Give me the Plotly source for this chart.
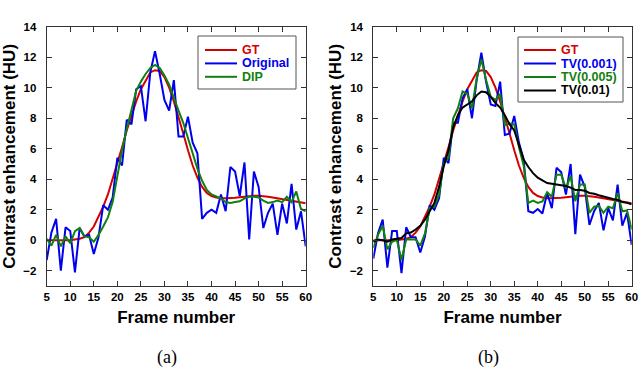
import plotly.graph_objects as go

RED = "#d40000"
BLUE = "#0000ee"
GREEN = "#108010"
BLACK = "#000000"

frames = list(range(5, 61))

gt = [0.0, 0.0, 0.0, 0.0, 0.0, 0.0, 0.05, 0.1, 0.2, 0.5, 0.9, 1.5, 2.2, 3.0,
      4.0, 5.0, 6.1, 7.2, 8.2, 9.1, 9.9, 10.5, 11.0, 11.15, 11.1, 10.7, 10.0,
      9.1, 8.1, 7.0, 5.9, 4.9, 4.1, 3.5, 3.1, 2.9, 2.8, 2.75, 2.75, 2.75, 2.78,
      2.82, 2.86, 2.9, 2.92, 2.92, 2.9, 2.85, 2.8, 2.75, 2.7, 2.6, 2.55, 2.5,
      2.45, 2.42]

original = [-1.3, 0.5, 1.4, -2.0, 0.85, 0.6, -2.1, 0.8, 0.25, 0.35, -0.9, 0.2,
            2.3, 2.0, 2.8, 5.4, 4.9, 7.9, 7.6, 9.9, 10.1, 7.8, 11.0, 12.4, 10.9,
            9.2, 8.5, 10.5, 6.8, 6.8, 8.1, 6.4, 5.7, 1.4, 1.8, 2.0, 1.8, 3.0,
            1.9, 4.8, 4.5, 2.9, 5.1, 0.05, 4.5, 3.5, 0.8, 1.8, 2.4, 0.35, 2.4,
            1.1, 3.7, 0.7, 1.9, -0.4]

dip = [0.1, -0.35, 0.35, -0.4, 0.25, -0.2, 0.6, 0.8, 0.25, 0.2, -0.1, 0.35,
       0.9, 1.5, 2.5, 4.3, 5.9, 7.3, 8.6, 9.8, 10.4, 10.9, 11.3, 11.5, 11.3,
       10.8, 10.2, 9.3, 8.5, 7.7, 6.7, 5.7, 4.7, 3.9, 3.3, 3.0, 2.9, 2.75,
       2.5, 2.45, 2.5, 2.55, 2.75, 2.85, 2.85, 2.8, 2.6, 2.45, 2.5, 2.6, 2.5,
       2.85, 2.5, 3.2, 2.05, 1.9]

tv_001 = [-1.2, 0.45, 1.35, -1.8, 0.6, 0.6, -2.15, 0.85, 0.2, 0.2, -0.8, 0.25,
          2.3, 2.0, 2.75, 5.4, 5.05, 7.7, 7.7, 9.3, 9.9, 8.0, 10.5, 12.3, 10.4,
          8.9, 8.8, 10.4, 6.9, 7.0, 8.15, 6.4, 5.3, 1.9, 1.8, 2.05, 1.75, 3.1,
          2.1, 4.75, 4.45, 3.0, 5.0, 0.4, 4.3, 3.5, 1.0, 1.9, 2.45, 0.65, 2.1,
          1.3, 3.65, 0.95, 1.8, -0.3]

tv_005 = [-0.5, 0.35, 0.95, -0.6, -0.1, 0.05, -1.3, 0.05, 0.05, 0.05, -0.35,
          0.45, 2.1, 2.2, 3.0, 5.05, 5.4, 8.0, 8.65, 9.75, 9.6, 8.65, 10.6,
          11.85, 10.5, 9.4, 9.2, 9.6, 7.55, 7.65, 7.6, 6.1, 4.9, 2.45, 2.6,
          2.45, 2.55, 3.15, 2.85, 4.3, 4.3, 3.4, 4.2, 2.55, 3.65, 3.65, 1.8,
          2.2, 2.25, 1.8, 2.2, 2.1, 3.1, 1.9, 1.95, 0.7]

tv_01 = [-0.1, 0.05, 0.0, -0.1, 0.05, 0.1, 0.15, 0.45, 0.5, 0.7, 0.95, 1.35,
         1.9, 2.45, 3.5, 4.85, 5.9, 7.4, 8.2, 8.7, 8.9, 9.1, 9.5, 9.75, 9.7,
         9.4, 9.0, 8.7, 8.2, 7.6, 7.2, 6.2, 5.3, 4.8, 4.4, 4.1, 3.9, 3.75, 3.7,
         3.65, 3.6, 3.55, 3.45, 3.3, 3.3, 3.25, 3.1, 3.05, 2.95, 2.85, 2.75,
         2.7, 2.65, 2.5, 2.45, 2.35]

x_ticks = list(range(5, 61, 5))
y_ticks = list(range(-2, 15, 2))

FONT = "Liberation Sans, Arial, sans-serif"
SERIF = "Liberation Serif, Times New Roman, serif"
W, H = 640, 371

left = [("GT", gt, RED), ("Original", original, BLUE), ("DIP", dip, GREEN)]
right = [("GT", gt, RED), ("TV(0.001)", tv_001, BLUE),
         ("TV(0.005)", tv_005, GREEN), ("TV(0.01)", tv_01, BLACK)]

fig = go.Figure()
for name, ys, col in left:
    fig.add_trace(go.Scatter(x=frames, y=ys, mode="lines", name=name,
                             line=dict(color=col, width=2), xaxis="x", yaxis="y"))
for name, ys, col in right:
    fig.add_trace(go.Scatter(x=frames, y=ys, mode="lines", name=name,
                             line=dict(color=col, width=2), xaxis="x2", yaxis="y2"))

# legend boxes drawn by hand (plotly's own rows are too tall here)
shapes = []
annotations = []


def px(x):
    return x / W


def py(y):
    return 1 - y / H


def add_legend(items, box, x_line, y_first, step):
    x0, y0, x1, y1 = box
    shapes.append(dict(type="rect", xref="paper", yref="paper",
                       x0=px(x0), x1=px(x1), y0=py(y0), y1=py(y1),
                       line=dict(color="#555555", width=1), fillcolor="white"))
    for i, (name, _, col) in enumerate(items):
        yy = y_first + i * step
        shapes.append(dict(type="line", xref="paper", yref="paper",
                           x0=px(x_line), x1=px(x_line + 32), y0=py(yy), y1=py(yy),
                           line=dict(color=col, width=2)))
        annotations.append(dict(text=f"<b>{name}</b>", xref="paper", yref="paper",
                                x=px(x_line + 35), y=py(yy), xanchor="left",
                                yanchor="middle", showarrow=False,
                                font=dict(family=FONT, size=12.5, color=col)))


add_legend(left, (198, 36, 296, 89), 205, 50, 13.4)
add_legend(right, (518, 37, 623, 102), 524, 50, 13.5)

for txt, xc in (("(a)", 167), ("(b)", 488)):
    annotations.append(dict(text=txt, x=px(xc), y=py(357), xref="paper", yref="paper",
                            xanchor="center", yanchor="middle", showarrow=False,
                            font=dict(family=SERIF, size=18, color="black")))

ax_common = dict(
    showline=True, linecolor="#333333", linewidth=1, mirror="ticks",
    ticks="inside", ticklen=5, tickcolor="#333333", showgrid=False,
    zeroline=False, automargin=False,
    tickfont=dict(family=FONT, size=11.5, color="black", weight="bold"),
)

xdef = dict(ax_common, range=[5, 60], tickvals=x_ticks,
            title=dict(text="<b>Frame number</b>", standoff=9,
                       font=dict(family=FONT, size=17, color="black")))
ydef = dict(ax_common, range=[-3, 14], tickvals=y_ticks, ticklabelstandoff=7,
            title=dict(text="<b>Contrast enhancement (HU)</b>", standoff=3,
                       font=dict(family=FONT, size=17, color="black")))

fig.update_layout(
    width=W, height=H,
    margin=dict(l=0, r=0, t=0, b=0, autoexpand=False),
    paper_bgcolor="white", plot_bgcolor="white",
    showlegend=False,
    xaxis=dict(xdef, domain=[px(46.7), px(305.7)], anchor="y"),
    yaxis=dict(ydef, domain=[py(286), py(26.7)], anchor="x"),
    xaxis2=dict(xdef, domain=[px(373.3), px(631.7)], anchor="y2"),
    yaxis2=dict(ydef, domain=[py(286), py(26.7)], anchor="x2"),
    shapes=shapes,
    annotations=annotations,
)

fig.write_html("out.html", config={"displayModeBar": False},
               post_script="document.body.style.margin='0px';")
